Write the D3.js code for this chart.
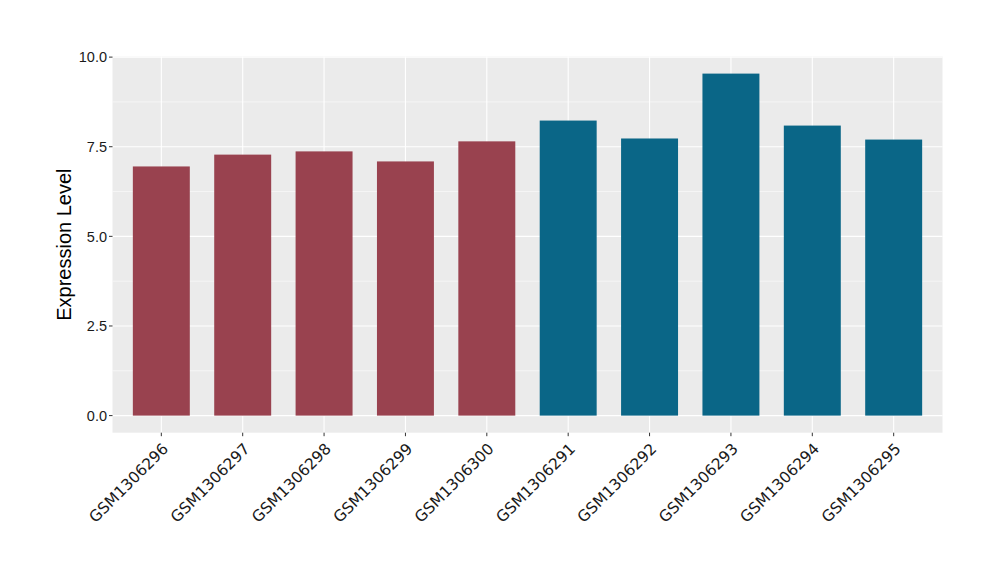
<!DOCTYPE html>
<html><head><meta charset="utf-8">
<script src="https://cdn.jsdelivr.net/npm/d3@7"></script>
<style>body{margin:0;background:#fff;} text{font-family:"Liberation Sans",Arial,sans-serif;}</style>
</head><body>
<svg id="chart" width="1000" height="580"></svg>
<script>
const categories = ["GSM1306296","GSM1306297","GSM1306298","GSM1306299","GSM1306300","GSM1306291","GSM1306292","GSM1306293","GSM1306294","GSM1306295"];
const values = [6.95, 7.28, 7.37, 7.09, 7.65, 8.23, 7.73, 9.54, 8.09, 7.70];
const groups = ["A","A","A","A","A","B","B","B","B","B"];
const groupColors = {A:"#99424F", B:"#0A6687"};
const yTicks = [0, 2.5, 5, 7.5, 10];
const yTickLabels = ["0.0","2.5","5.0","7.5","10.0"];
const yMinor = [1.25, 3.75, 6.25, 8.75];

const svg = d3.select("#chart");
const L = 112.5, R = 942.5, T = 56.5, B = 432.7;
const maxV = d3.max(values);
const pad = maxV * 0.05;
const y = d3.scaleLinear().domain([-pad, maxV + pad]).range([B, T]);
const xPos = d3.scaleLinear().domain([0.4, categories.length + 0.6]).range([L, R]);
const bw = (xPos(1.7) - xPos(1));

svg.append("rect").attr("x", L).attr("y", T).attr("width", R - L).attr("height", B - T).attr("fill", "#EBEBEB");
const g = svg.append("g");
g.selectAll(".minor").data(yMinor).join("line")
  .attr("x1", L).attr("x2", R).attr("y1", d => y(d)).attr("y2", d => y(d))
  .attr("stroke", "#fff").attr("stroke-width", 0.55);
g.selectAll(".major").data(yTicks).join("line")
  .attr("x1", L).attr("x2", R).attr("y1", d => y(d)).attr("y2", d => y(d))
  .attr("stroke", "#fff").attr("stroke-width", 1.1);
g.selectAll(".vmaj").data(categories).join("line")
  .attr("x1", (d,i) => xPos(i+1)).attr("x2", (d,i) => xPos(i+1)).attr("y1", T).attr("y2", B)
  .attr("stroke", "#fff").attr("stroke-width", 1.1);

g.selectAll(".bar").data(values).join("rect")
  .attr("x", (d,i) => xPos(i+1) - bw/2)
  .attr("width", bw)
  .attr("y", d => y(d))
  .attr("height", d => y(0) - y(d))
  .attr("fill", (d,i) => groupColors[groups[i]]);

// y axis
const ya = svg.append("g");
ya.selectAll("line").data(yTicks).join("line")
  .attr("x1", L - 3.5).attr("x2", L).attr("y1", d => y(d)).attr("y2", d => y(d))
  .attr("stroke", "#333").attr("stroke-width", 1);
ya.selectAll("text").data(yTicks).join("text")
  .attr("x", L - 5.5).attr("y", d => y(d)).attr("dy", "0.36em")
  .attr("text-anchor", "end").attr("font-size", 14.5).attr("fill", "#1a1a1a")
  .text((d,i) => yTickLabels[i]);

// x axis
const xa = svg.append("g");
xa.selectAll("line").data(categories).join("line")
  .attr("x1", (d,i) => xPos(i+1)).attr("x2", (d,i) => xPos(i+1)).attr("y1", B).attr("y2", B + 3.5)
  .attr("stroke", "#333").attr("stroke-width", 1);
xa.selectAll("text").data(categories).join("text")
  .attr("transform", (d,i) => `translate(${xPos(i+1) + 8},${B + 17}) rotate(-45)`)
  .attr("text-anchor", "end").attr("font-size", 15.5).attr("fill", "#1a1a1a")
  .style("font-family", "'DejaVu Sans', sans-serif")
  .text(d => d);

svg.append("text")
  .attr("transform", `translate(71,${(T + B)/2}) rotate(-90)`)
  .attr("text-anchor", "middle").attr("font-size", 20).attr("fill", "#000")
  .text("Expression Level");
</script>
</body></html>
